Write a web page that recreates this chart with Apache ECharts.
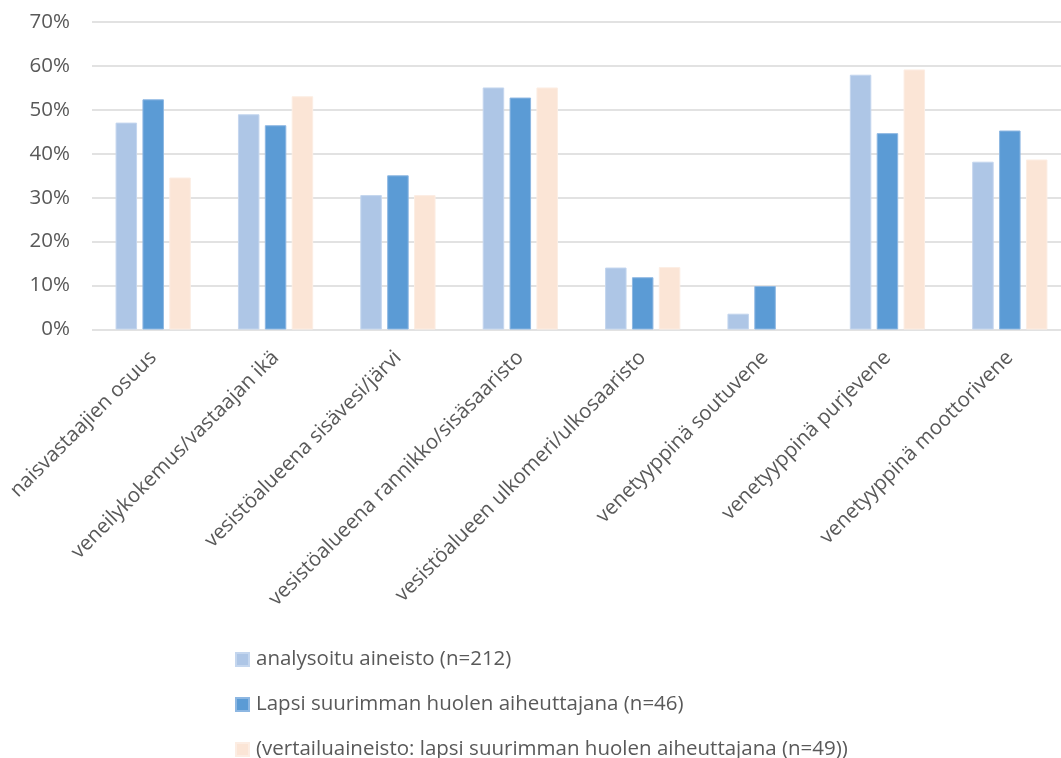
<!DOCTYPE html>
<html>
<head>
<meta charset="utf-8">
<script src="https://cdn.jsdelivr.net/npm/echarts@6/dist/echarts.min.js"></script>
<style>
  html, body { margin: 0; padding: 0; background: #fff; overflow: hidden; }
  /* the plot area runs a little past the right edge of the window */
  #chart { width: 1071px; height: 758px; }
</style>
</head>
<body>
<div id="chart"></div>
<script>
// Categories along the x axis
const categories = [
  'naisvastaajien osuus',
  'veneilykokemus/vastaajan ikä',
  'vesistöalueena sisävesi/järvi',
  'vesistöalueena rannikko/sisäsaaristo',
  'vesistöalueen ulkomeri/ulkosaaristo',
  'venetyyppinä soutuvene',
  'venetyyppinä purjevene',
  'venetyyppinä moottorivene'
];

// Series names
const seriesNames = [
  'analysoitu aineisto (n=212)',
  'Lapsi suurimman huolen aiheuttajana (n=46)',
  '(vertailuaineisto: lapsi suurimman huolen aiheuttajana (n=49))'
];

// Shares in percent
const analysoitu = [47.1, 49.0, 30.6, 55.1, 14.1, 3.6, 58.0, 38.2];
const lapsi      = [52.4, 46.5, 35.1, 52.8, 11.9, 9.9, 44.7, 45.3];
const vertailu   = [34.6, 53.1, 30.6, 55.1, 14.2, null, 59.2, 38.7];

// Y axis ticks
const yMin = 0, yMax = 70, yStep = 10;

const colors = ['#AEC6E6', '#5B9BD5', '#FBE5D6'];
const borders = ['#C4D6EE', '#8DB7E2', '#FCEDE3'];
const font = '"Open Sans", "DejaVu Sans", sans-serif';
const textColor = '#595959';
const fontSize = 20.5;

const seriesData = [analysoitu, lapsi, vertailu];

// One legend row per series, stacked under the plot
const legendTops = [649, 694, 739];
const legends = seriesNames.map((name, i) => ({
  orient: 'horizontal',
  left: 235,
  top: legendTops[i],
  padding: 0,
  itemWidth: 13,
  itemHeight: 13,
  icon: 'rect',
  textStyle: { fontFamily: font, fontSize: fontSize, lineHeight: 21, color: textColor, padding: [0, 0, 0, 2] },
  data: [name]
}));

const chart = echarts.init(document.getElementById('chart'), null, { renderer: 'canvas' });
chart.setOption({
  animation: false,
  backgroundColor: '#ffffff',
  textStyle: { fontFamily: font },
  grid: { left: 92, right: 0, top: 22, bottom: 428.5, containLabel: false },
  legend: legends,
  xAxis: {
    type: 'category',
    data: categories,
    axisLine: { show: false },
    axisTick: { show: false },
    axisLabel: {
      rotate: 45,
      interval: 0,
      margin: 25,
      fontFamily: font,
      fontSize: fontSize,
      color: textColor
    }
  },
  yAxis: {
    type: 'value',
    min: yMin,
    max: yMax,
    interval: yStep,
    axisLine: { show: false },
    axisTick: { show: false },
    axisLabel: {
      formatter: v => v + '%',
      margin: 22,
      fontFamily: font,
      fontSize: fontSize,
      color: textColor
    },
    splitLine: { lineStyle: { color: '#D9D9D9', width: 1.5 } }
  },
  series: seriesNames.map((name, i) => ({
    name,
    type: 'bar',
    data: seriesData[i],
    barWidth: 21.5,
    barGap: '25%',
    itemStyle: { color: colors[i], borderColor: borders[i], borderWidth: 1 }
  }))
});
</script>
</body>
</html>
